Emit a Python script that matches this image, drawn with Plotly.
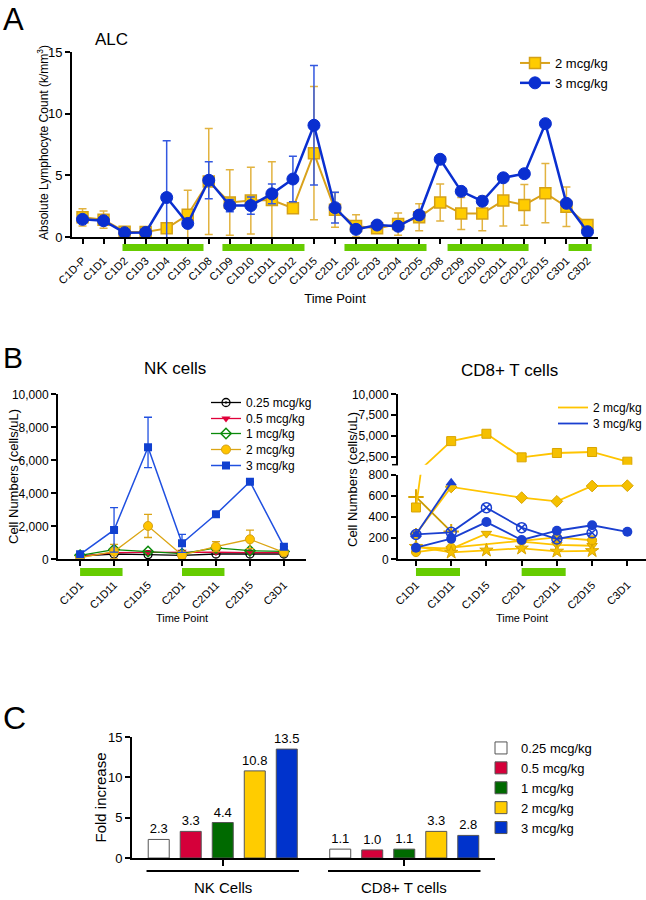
import plotly.graph_objects as go

W, H = 646, 900
FONT = "Liberation Sans, Arial, sans-serif"

# ---------------- Panel A data ----------------
alc_times = ["C1D-P", "C1D1", "C1D2", "C1D3", "C1D4", "C1D5", "C1D8", "C1D9", "C1D10",
             "C1D11", "C1D12", "C1D15", "C2D1", "C2D2", "C2D3", "C2D4", "C2D5", "C2D8",
             "C2D9", "C2D10", "C2D11", "C2D12", "C2D15", "C3D1", "C3D2"]
alc_2 = [1.6, 1.4, 0.43, 0.4, 0.7, 1.8, 4.5, 2.8, 2.95, 3.0, 2.33, 6.8, 2.2, 0.9, 0.7,
         1.05, 1.6, 2.8, 1.9, 1.9, 2.95, 2.6, 3.55, 2.45, 0.97]
alc_2_err = [0.7, 0.7, 0.2, 0.2, 0.3, 2.0, 4.3, 2.65, 2.7, 3.1, 0.3, 5.4, 1.4, 0.9, 0.3,
             0.9, 1.1, 1.5, 1.3, 1.4, 2.05, 1.65, 2.4, 1.6, 0.1]
alc_3 = [1.43, 1.32, 0.35, 0.37, 3.2, 1.1, 4.6, 2.55, 2.55, 3.5, 4.7, 9.06, 2.38, 0.62,
         0.97, 0.87, 1.78, 6.3, 3.7, 2.9, 4.8, 5.13, 9.19, 2.73, 0.43]
alc_3_err = [0, 0, 0, 0, 4.6, 0, 1.5, 0.5, 0.7, 0.8, 1.85, 4.85, 1.25, 0, 0, 0, 0, 0,
             0, 0, 0, 0, 0, 0, 0]
alc_dosing_start = [1.9, 6.65, 12.45, 17.35, 23.1]
alc_dosing_end = [5.75, 10.55, 16.35, 21.2, 24.2]

# ---------------- Panel B data ----------------
b_times = ["C1D1", "C1D11", "C1D15", "C2D1", "C2D11", "C2D15", "C3D1"]
nk_025 = [200, 320, 285, 240, 320, 320, 320]
nk_05 = [180, 400, 420, 450, 440, 400, 400]
nk_1 = [240, 590, 470, 340, 690, 520, 480]
nk_2 = [100, 465, 2020, 263, 768, 1212, 424]
nk_2_err = [0, 445, 700, 200, 300, 560, 0]
nk_3 = [300, 1780, 6790, 970, 2727, 4707, 768]
nk_3_err_plus = [0, 1350, 1820, 545, 0, 0, 0]
nk_3_err_minus = [0, 1350, 1230, 545, 0, 0, 0]

cd8_2_square = [490, 4400, 5280, 2460, 2980, 3100, 1940]
cd8_2_diamond = [240, 684, None, 583, 548, 693, 696]
cd8_2_plus = [590, 262, None, None, None, None, None]
cd8_2_tridown = [115, 100, 243, 167, 137, 128, None]
cd8_2_circle = [68, 110, None, 175, 207, 180, None]
cd8_2_star = [120, 65, 85, 104, 75, 80, None]
cd8_3_triup = [235, 725, None, None, None, None, None]
cd8_3_circlex = [235, 255, 488, 299, 192, 250, None]
cd8_3_circle = [110, 195, 352, 183, 270, 322, 260]
b_dosing_start = [0, 3]
b_dosing_end = [1.25, 4.25]

# ---------------- Panel C data ----------------
groups = ["NK Cells", "CD8+ T cells"]
doses = ["0.25 mcg/kg", "0.5 mcg/kg", "1 mcg/kg", "2 mcg/kg", "3 mcg/kg"]
fold_nk = [2.3, 3.3, 4.4, 10.8, 13.5]
fold_cd8 = [1.1, 1.0, 1.1, 3.3, 2.8]
dose_colors = ["#FFFFFF", "#D5003A", "#006A00", "#FFCC00", "#0033CC"]


def px_x(p):
    return p / W


def px_y(p):
    return 1 - p / H


fig = go.Figure()

# ---- Panel A traces ----
GOLD_A = "#D9A21B"
BLUE_A = "#0A2FD0"
fig.add_trace(go.Scatter(
    x=alc_times, y=alc_2, name="2 mcg/kg", mode="lines+markers",
    line=dict(color=GOLD_A, width=2),
    marker=dict(symbol="square", size=11, color="#FFCC00", line=dict(color="#D4A017", width=1.5)),
    error_y=dict(type="data", array=alc_2_err, color="#E2B340", thickness=1.5, width=4),
    xaxis="x", yaxis="y", legend="legend"))
fig.add_trace(go.Scatter(
    x=alc_times, y=alc_3, name="3 mcg/kg", mode="lines+markers",
    line=dict(color=BLUE_A, width=2.5),
    marker=dict(symbol="circle", size=12, color=BLUE_A, line=dict(color=BLUE_A, width=1)),
    error_y=dict(type="data", array=alc_3_err, color="#3358E0", thickness=1.5, width=4),
    xaxis="x", yaxis="y", legend="legend"))

# ---- Panel B NK traces (one legend box per entry for tight spacing) ----
fig.add_trace(go.Scatter(
    x=b_times, y=nk_025, name="0.25 mcg/kg", mode="lines+markers",
    line=dict(color="black", width=1.3),
    marker=dict(symbol="circle-open-dot", size=8, color="black", line=dict(width=1.3)),
    xaxis="x2", yaxis="y2", legend="legend2"))
fig.add_trace(go.Scatter(
    x=b_times, y=nk_05, name="0.5 mcg/kg", mode="lines+markers",
    line=dict(color="#E0003A", width=1.3),
    marker=dict(symbol="triangle-down", size=8, color="#E0003A"),
    xaxis="x2", yaxis="y2", legend="legend3"))
fig.add_trace(go.Scatter(
    x=b_times, y=nk_1, name="1 mcg/kg", mode="lines+markers",
    line=dict(color="#0A8A0A", width=1.3),
    marker=dict(symbol="diamond-open", size=8, color="#0A8A0A", line=dict(width=1.5)),
    xaxis="x2", yaxis="y2", legend="legend4"))
fig.add_trace(go.Scatter(
    x=b_times, y=nk_2, name="2 mcg/kg", mode="lines+markers",
    line=dict(color="#DBA514", width=1.3),
    marker=dict(symbol="circle", size=9, color="#FFC400", line=dict(color="#D4A017", width=1)),
    error_y=dict(type="data", array=nk_2_err, color="#DBA514", thickness=1.3, width=4),
    xaxis="x2", yaxis="y2", legend="legend5"))
fig.add_trace(go.Scatter(
    x=b_times, y=nk_3, name="3 mcg/kg", mode="lines+markers",
    line=dict(color="#2050E0", width=1.5),
    marker=dict(symbol="square", size=8, color="#1040D0"),
    error_y=dict(type="data", array=nk_3_err_plus, arrayminus=nk_3_err_minus,
                 color="#2050E0", thickness=1.3, width=4),
    xaxis="x2", yaxis="y2", legend="legend6"))

# ---- Panel B CD8 traces ----
GOLD_B = "#FFC400"
GOLD_MK = dict(color="#F5C000", line=dict(color="#D9A400", width=1))
BLUE_B = "#1A3FD0"
cd8_gold = [
    (cd8_2_diamond, "diamond", 9),
    (cd8_2_tridown, "triangle-down", 9),
    (cd8_2_circle, "circle", 9),
    (cd8_2_star, "star", 10),
]
for ys, sym, sz in cd8_gold:
    fig.add_trace(go.Scatter(
        x=b_times, y=ys, mode="lines+markers", showlegend=False, connectgaps=True,
        line=dict(color=GOLD_B, width=1.8),
        marker=dict(symbol=sym, size=sz, **GOLD_MK),
        xaxis="x3", yaxis="y3"))
fig.add_trace(go.Scatter(
    x=b_times, y=cd8_2_plus, mode="lines+markers", showlegend=False,
    line=dict(color="#C99A00", width=1.8),
    marker=dict(symbol="cross-thin-open", size=11, color="#D9A400", line=dict(width=2)),
    xaxis="x3", yaxis="y3"))
for ya in ("y3", "y4"):
    fig.add_trace(go.Scatter(
        x=b_times, y=cd8_2_square, mode="lines+markers", showlegend=False,
        line=dict(color=GOLD_B, width=1.8),
        marker=dict(symbol="square", size=9, **GOLD_MK),
        xaxis="x3", yaxis=ya))
fig.add_trace(go.Scatter(
    x=b_times, y=cd8_3_triup, mode="lines+markers", showlegend=False,
    line=dict(color=BLUE_B, width=1.8),
    marker=dict(symbol="triangle-up", size=10, color=BLUE_B),
    xaxis="x3", yaxis="y3"))
fig.add_trace(go.Scatter(
    x=b_times, y=cd8_3_circlex, mode="lines+markers", showlegend=False,
    line=dict(color=BLUE_B, width=1.8),
    marker=dict(symbol="circle-x-open", size=10, color=BLUE_B, line=dict(width=1.5)),
    xaxis="x3", yaxis="y3"))
fig.add_trace(go.Scatter(
    x=b_times, y=cd8_3_circle, mode="lines+markers", showlegend=False,
    line=dict(color=BLUE_B, width=1.8),
    marker=dict(symbol="circle", size=10, color=BLUE_B),
    xaxis="x3", yaxis="y3"))
# legend entries (lines only)
fig.add_trace(go.Scatter(x=[None], y=[None], mode="lines", name="2 mcg/kg",
                         line=dict(color=GOLD_B, width=1.8), xaxis="x3", yaxis="y3", legend="legend7"))
fig.add_trace(go.Scatter(x=[None], y=[None], mode="lines", name="3 mcg/kg",
                         line=dict(color=BLUE_B, width=1.8), xaxis="x3", yaxis="y3", legend="legend8"))

# ---- Panel C bars ----
for i, d in enumerate(doses):
    vals = [fold_nk[i], fold_cd8[i]]
    fig.add_trace(go.Bar(
        x=groups, y=vals, name=d,
        marker=dict(color=dose_colors[i], line=dict(color="#555555", width=1)),
        text=[f"{v:.1f}" for v in vals], textposition="outside", constraintext="none",
        textfont=dict(size=13, color="black", family=FONT),
        cliponaxis=False, xaxis="x5", yaxis="y5", legend="legend9"))

# ---------------- Layout ----------------
axis_common = dict(showline=True, linecolor="black", linewidth=2, ticks="outside",
                   ticklen=5, tickwidth=1.5, tickcolor="black", showgrid=False,
                   zeroline=False, automargin=False,
                   tickfont=dict(family=FONT, size=12, color="black"))

C_TOP, C_ZERO = 737, 858

shapes = []
for s, e in zip(alc_dosing_start, alc_dosing_end):
    shapes.append(dict(type="rect", xref="x", yref="paper", x0=s, x1=e,
                       y0=px_y(251), y1=px_y(244), fillcolor="#66CC00", line=dict(width=0)))
for xr in ("x2", "x3"):
    for s, e in zip(b_dosing_start, b_dosing_end):
        shapes.append(dict(type="rect", xref=xr, yref="paper", x0=s, x1=e,
                           y0=px_y(576), y1=px_y(568), fillcolor="#66CC00", line=dict(width=0)))
# brackets under panel C groups
for gi, g in enumerate(groups):
    shapes.append(dict(type="line", xref="x5", yref="paper", x0=gi - 0.42, x1=gi + 0.42,
                       y0=px_y(C_ZERO + 13), y1=px_y(C_ZERO + 13), line=dict(color="black", width=2)))
# broken-axis end mark for upper CD8 axis
shapes.append(dict(type="line", xref="paper", yref="paper", x0=px_x(392), x1=px_x(398),
                   y0=px_y(464.7), y1=px_y(464.7), line=dict(color="black", width=1.5)))

annotations = [
    dict(text="A", x=px_x(1), y=px_y(0), font=dict(size=31), xanchor="left", yanchor="top"),
    dict(text="ALC", x=px_x(111), y=px_y(40), font=dict(size=17)),
    dict(text="Absolute Lymphocyte Count (k/mm<sup>3</sup>)", x=px_x(43), y=px_y(143),
         textangle=-90, font=dict(size=12)),
    dict(text="B", x=px_x(1), y=px_y(357), font=dict(size=30), xanchor="left"),
    dict(text="NK cells", x=px_x(175), y=px_y(369), font=dict(size=17)),
    dict(text="Cell Numbers (cells/uL)", x=px_x(13), y=px_y(477), textangle=-90,
         font=dict(size=13)),
    dict(text="CD8+ T cells", x=px_x(509), y=px_y(370), font=dict(size=17)),
    dict(text="Cell Numbers (cells/uL)", x=px_x(352), y=px_y(480), textangle=-90,
         font=dict(size=13)),
    dict(text="C", x=px_x(1), y=px_y(718), font=dict(size=32), xanchor="left"),
    dict(text="Fold increase", x=px_x(100), y=px_y((C_TOP + C_ZERO) / 2), textangle=-90,
         font=dict(size=15)),
]
for g in groups:
    annotations.append(dict(text=g, xref="x5", x=g, y=px_y(C_ZERO + 29), font=dict(size=15)))
for a in annotations:
    a.setdefault("xref", "paper")
    a.setdefault("yref", "paper")
    a.setdefault("xanchor", "center")
    a.setdefault("yanchor", "middle")
    a["showarrow"] = False
    a["font"] = dict(family=FONT, color="black", **a["font"])

LEG = dict(xanchor="left", yanchor="top", bgcolor="rgba(0,0,0,0)")
nk_rows = [401, 417, 432, 448, 464]
legends = {}
for k, r in zip(range(2, 7), nk_rows):
    legends[f"legend{k}"] = dict(LEG, x=px_x(206), y=px_y(r - 13), font=dict(family=FONT, size=12))
for k, r in zip((7, 8), (406, 422)):
    legends[f"legend{k}"] = dict(LEG, x=px_x(553), y=px_y(r - 13), font=dict(family=FONT, size=12))

fig.update_layout(
    width=W, height=H, margin=dict(l=0, r=0, t=0, b=0, pad=0, autoexpand=False),
    paper_bgcolor="white", plot_bgcolor="white",
    font=dict(family=FONT, color="black"),
    showlegend=True, bargap=0.118, bargroupgap=0.344, barmode="group",
    xaxis=dict(axis_common, domain=[px_x(72), px_x(598)], anchor="y", type="category",
               range=[-0.5, 24.5], tickangle=-45, tickfont=dict(family=FONT, size=11, color="black"),
               ticklabelstandoff=6,
               title=dict(text="Time Point", font=dict(family=FONT, size=13), standoff=8)),
    yaxis=dict(axis_common, domain=[px_y(237), px_y(52)], anchor="x", range=[0, 15],
               tickvals=[0, 5, 10, 15], tickfont=dict(family=FONT, size=13, color="black")),
    xaxis2=dict(axis_common, domain=[px_x(58), px_x(306)], anchor="y2", type="category",
                range=[-0.65, 6.65], tickangle=-45, tickfont=dict(family=FONT, size=11, color="black"),
                ticklabelstandoff=8,
                title=dict(text="Time Point", font=dict(family=FONT, size=11), standoff=4)),
    yaxis2=dict(axis_common, domain=[px_y(559.3), px_y(394.3)], anchor="x2", range=[0, 10000],
                tickvals=[0, 2000, 4000, 6000, 8000, 10000], tickformat=","),
    xaxis3=dict(axis_common, domain=[px_x(398), 1.0], anchor="y3", type="category",
                range=[-0.51, 6.53], tickangle=-45, tickfont=dict(family=FONT, size=11, color="black"),
                ticklabelstandoff=8,
                title=dict(text="Time Point", font=dict(family=FONT, size=11), standoff=4)),
    yaxis3=dict(axis_common, domain=[px_y(559.3), px_y(474.7)], anchor="x3", range=[0, 800],
                tickvals=[0, 200, 400, 600, 800]),
    yaxis4=dict(axis_common, domain=[px_y(464.7), px_y(394.3)], anchor="x3", range=[1580, 10000],
                tickvals=[2500, 5000, 7500, 10000], tickformat=","),
    xaxis5=dict(axis_common, domain=[px_x(132), px_x(495)], anchor="y5", type="category",
                range=[-0.5, 1.5], showticklabels=False, ticklen=6),
    yaxis5=dict(axis_common, domain=[px_y(C_ZERO), px_y(C_TOP)], anchor="x5", range=[0, 15],
                tickvals=[0, 5, 10, 15], tickfont=dict(family=FONT, size=13, color="black")),
    legend=dict(LEG, x=px_x(515), y=px_y(48), font=dict(family=FONT, size=13)),
    legend9=dict(LEG, x=px_x(481), y=px_y(733), font=dict(family=FONT, size=13)),
    shapes=shapes, annotations=annotations,
    **legends,
)

fig.write_html("out.html", config={"displayModeBar": False},
               post_script="document.body.style.margin='0px';")
